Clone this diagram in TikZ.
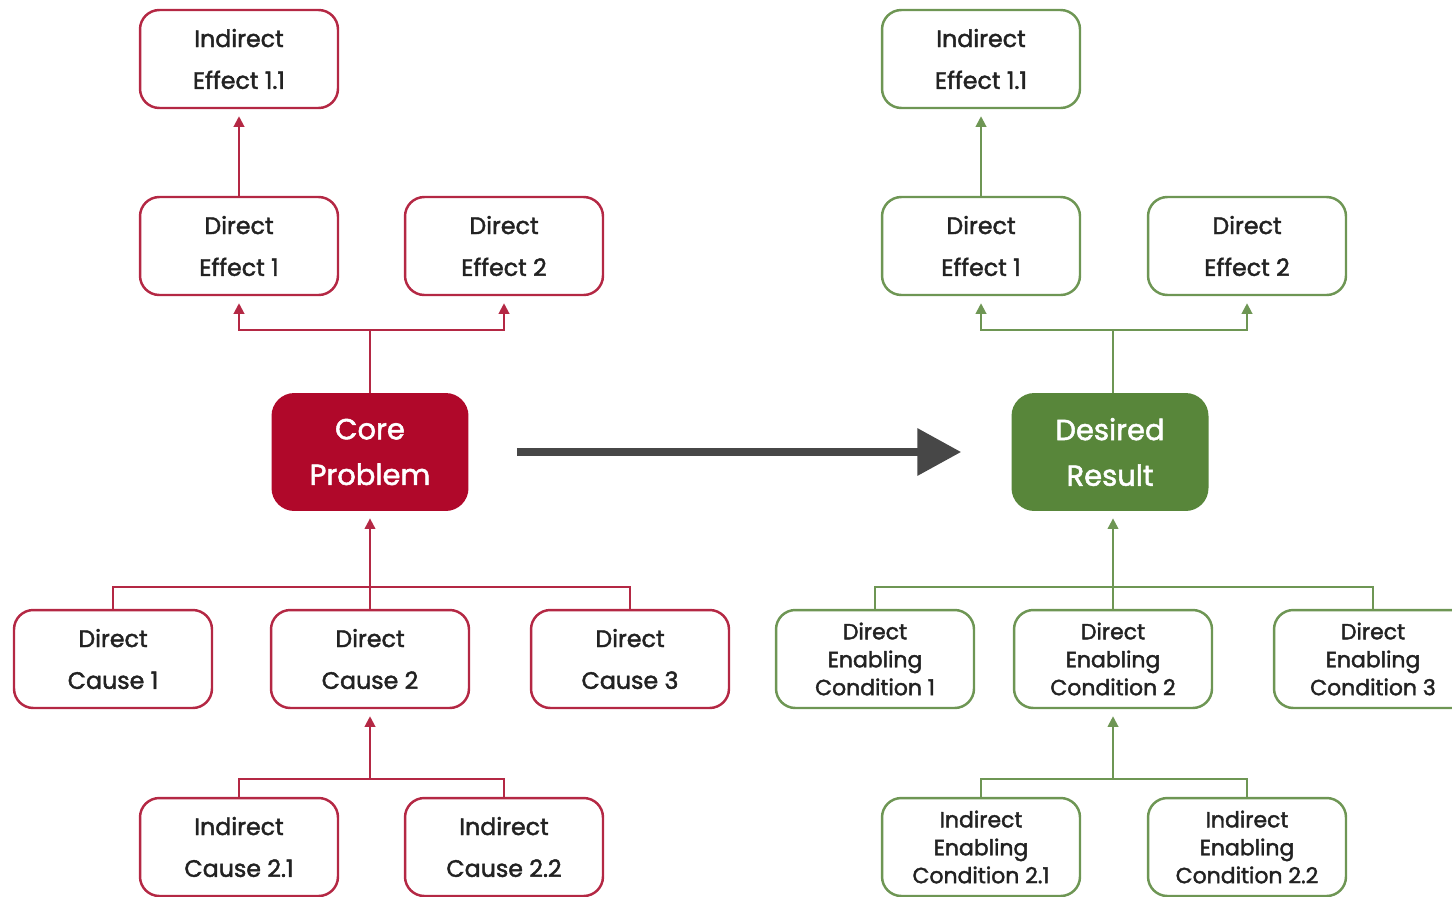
\documentclass[tikz,border=0pt]{standalone}
\usepackage{fontspec}
\setmainfont{Poppins}
\newfontfamily\boxfont[FakeBold=1.8]{Poppins}
\usetikzlibrary{shapes,arrows,arrows.meta,positioning,calc}
\definecolor{probred}{RGB}{180,40,68}
\definecolor{corered}{RGB}{176,8,42}
\definecolor{goalgreen}{RGB}{110,150,84}
\definecolor{resgreen}{RGB}{88,134,58}
\definecolor{bigarrow}{RGB}{71,71,71}
\definecolor{txt}{RGB}{34,34,34}

\begin{document}
\begin{tikzpicture}[x=0.02cm, y=-0.02cm, >={Triangle[width=6pt,length=6pt]}, every text node part/.style={align=center},
    box/.style={rectangle, line width=1.4pt, rounded corners=11pt, fill=white, text=txt, minimum width=3.96cm, minimum height=1.96cm, font=\boxfont\fontsize{13.5}{23.8}\selectfont},
    redbox/.style={box, draw=probred},
    greenbox/.style={box, draw=goalgreen},
    threeline/.style={font=\boxfont\fontsize{12.5}{15.9}\selectfont},
    corebox/.style={rectangle, rounded corners=13pt, text=white, minimum width=3.94cm, minimum height=2.36cm, font=\boxfont\fontsize{16.5}{26}\selectfont},
    redline/.style={draw=probred, line width=1.1pt},
    greenline/.style={draw=goalgreen, line width=1.1pt},
    tip/.style={->, shorten >=4pt}]
    \useasboundingbox (0,0) rectangle (1452,896);

    % problem tree
    \node [redbox] (pind) at (239,59) {Indirect\\Effect 1.1};
    \node [redbox] (peff1) at (239,246) {Direct\\Effect 1};
    \node [redbox] (peff2) at (504,246) {Direct\\Effect 2};
    \node [corebox, fill=corered] (core) at (370,452) {Core\\Problem};
    \node [redbox] (pcause1) at (113,659) {Direct\\Cause 1};
    \node [redbox] (pcause2) at (370,659) {Direct\\Cause 2};
    \node [redbox] (pcause3) at (630,659) {Direct\\Cause 3};
    \node [redbox] (pind1) at (239,847) {Indirect\\Cause 2.1};
    \node [redbox] (pind2) at (504,847) {Indirect\\Cause 2.2};
    \coordinate (pej) at (370,330);
    \coordinate (pcj) at (370,587);
    \coordinate (pij) at (370,779);

    \draw [redline, tip] (peff1) -- (pind);
    \draw [redline] (core) -- (pej);
    \draw [redline, tip] (pej) -| (peff1);
    \draw [redline, tip] (pej) -| (peff2);
    \draw [redline, tip] (pcj) -- (core);
    \draw [redline] (pcj) -| (pcause1);
    \draw [redline] (pcj) -- (pcause2);
    \draw [redline] (pcj) -| (pcause3);
    \draw [redline, tip] (pij) -- (pcause2);
    \draw [redline] (pij) -| (pind1);
    \draw [redline] (pij) -| (pind2);

    % objective tree
    \node [greenbox] (gind) at (981,59) {Indirect\\Effect 1.1};
    \node [greenbox] (geff1) at (981,246) {Direct\\Effect 1};
    \node [greenbox] (geff2) at (1247,246) {Direct\\Effect 2};
    \node [corebox, fill=resgreen] (result) at (1110,452) {Desired\\Result};
    \node [greenbox, threeline] (gcond1) at (875,659) {Direct\\Enabling\\Condition 1};
    \node [greenbox, threeline] (gcond2) at (1113,659) {Direct\\Enabling\\Condition 2};
    \node [greenbox, threeline] (gcond3) at (1373,659) {Direct\\Enabling\\Condition 3};
    \node [greenbox, threeline] (gind1) at (981,847) {Indirect\\Enabling\\Condition 2.1};
    \node [greenbox, threeline] (gind2) at (1247,847) {Indirect\\Enabling\\Condition 2.2};
    \coordinate (gej) at (1113,330);
    \coordinate (gcj) at (1113,587);
    \coordinate (gij) at (1113,779);

    \draw [greenline, tip] (geff1) -- (gind);
    \draw [greenline] (gej |- result.north) -- (gej);
    \draw [greenline, tip] (gej) -| (geff1);
    \draw [greenline, tip] (gej) -| (geff2);
    \draw [greenline, tip] (gcj) -- (gcj |- result.south);
    \draw [greenline] (gcj) -| (gcond1);
    \draw [greenline] (gcj) -- (gcond2);
    \draw [greenline] (gcj) -| (gcond3);
    \draw [greenline, tip] (gij) -- (gcond2);
    \draw [greenline] (gij) -| (gind1);
    \draw [greenline] (gij) -| (gind2);

    % problem to result
    \draw [draw=bigarrow, line width=4.5pt, -{Triangle[width=26pt,length=25pt]}] ([xshift=0.96cm]core.east) -- ([xshift=-1cm]result.west);
\end{tikzpicture}
\end{document}
